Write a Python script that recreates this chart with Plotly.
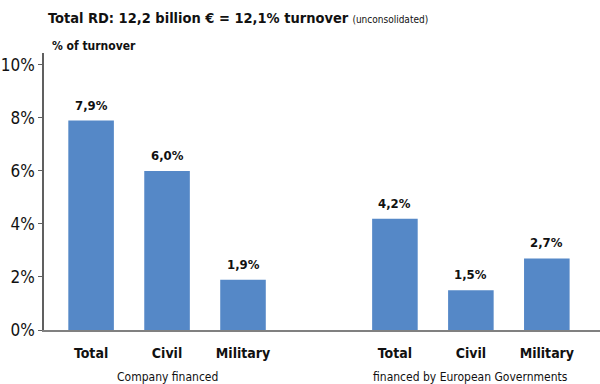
import plotly.graph_objects as go

# R&D spending as share of turnover
categories = ["Total", "Civil", "Military", "Total", "Civil", "Military"]
positions = [0, 1, 2, 4, 5, 6]
values = [7.9, 6.0, 1.9, 4.2, 1.5, 2.7]
groups = ["Company financed", "financed by European Governments"]
group_centers = [1, 5]
y_ticks = [0, 2, 4, 6, 8, 10]
y_tick_labels = [f"{t}%" for t in y_ticks]

FONT = "DejaVu Sans Condensed, Liberation Sans Narrow, sans-serif"
BAR = "#5588C7"

fig = go.Figure()
fig.add_trace(go.Bar(
    x=positions, y=values, width=0.6,
    marker=dict(color=BAR, line=dict(width=0)),
    hoverinfo="skip",
))

annotations = []
for x, v in zip(positions, values):
    annotations.append(dict(
        x=x, y=v, xref="x", yref="y", yanchor="bottom", yshift=6,
        text=f"<b>{v:.1f}%</b>".replace(".", ","), showarrow=False,
        font=dict(family=FONT, size=13, color="#111"),
    ))
for gx, g in zip(group_centers, groups):
    annotations.append(dict(
        x=gx, y=0, xref="x", yref="paper", yanchor="middle", yshift=-47,
        text=g, showarrow=False,
        font=dict(family=FONT, size=12, color="#111"),
    ))
annotations.append(dict(
    x=46, y=18, xref="paper", yref="paper", xanchor="left", yanchor="middle",
    text="<b>Total RD: 12,2 billion € = 12,1% turnover</b> <span style='font-size:10px'>(unconsolidated)</span>",
    showarrow=False, font=dict(family=FONT, size=14.5, color="#111"),
))
annotations.append(dict(
    x=50, y=46, xref="paper", yref="paper", xanchor="left", yanchor="middle",
    text="<b>% of turnover</b>", showarrow=False,
    font=dict(family=FONT, size=12, color="#111"),
))

fig.update_layout(
    width=600, height=384,
    margin=dict(l=44, r=0, t=53, b=54),
    plot_bgcolor="white", paper_bgcolor="white",
    showlegend=False,
    annotations=annotations,
    xaxis=dict(
        range=[-0.62, 6.7], tickvals=positions,
        ticktext=[f"<b>{c}</b>" for c in categories],
        tickfont=dict(family=FONT, size=14, color="#111"),
        showline=True, linecolor="#808080", linewidth=1.5,
        ticks="", showgrid=False, zeroline=False, ticklabelstandoff=9,
    ),
    yaxis=dict(
        range=[0, 10.45], tickvals=y_ticks, ticktext=y_tick_labels,
        tickfont=dict(family=FONT, size=17, color="#111"),
        showline=True, linecolor="#606060", linewidth=1.5,
        ticks="outside", ticklen=4, tickcolor="#606060",
        showgrid=False, zeroline=False,
    ),
)

# Paper-coordinate annotations above are given in pixels; convert them.
for a in fig.layout.annotations:
    if a.xref == "paper" and a.yref == "paper" and a.x > 1:
        a.x = (a.x - 44) / 556
        a.y = 1 + (53 - a.y) / 277

fig.write_html("out.html")
